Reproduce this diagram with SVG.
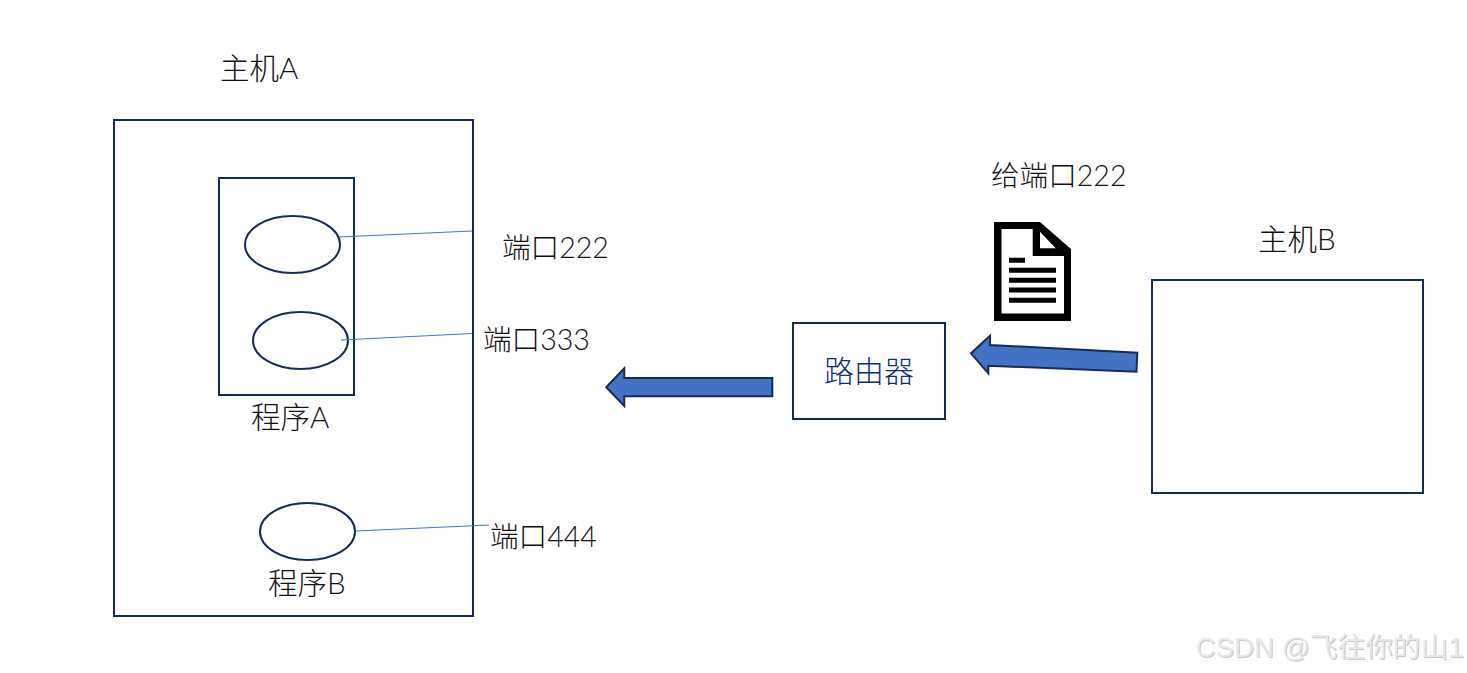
<svg xmlns="http://www.w3.org/2000/svg" width="1467" height="673" viewBox="0 0 1467 673">
<defs><filter id="emboss" x="-5%" y="-20%" width="110%" height="140%"><feDropShadow dx="1" dy="1" stdDeviation="0.5" flood-color="#c8c8c8"/></filter></defs>
<style>
text{font-family:Lato,"Noto Sans CJK SC",sans-serif;font-size:28.6px;fill:#111;font-weight:300}
.label{font-size:29.5px}
.box{fill:#fff;stroke:#172c51;stroke-width:2}
.port{fill:#fff;stroke:#172c51;stroke-width:2}
.link{stroke:#4472c4;stroke-width:1;fill:none}
.arrow{fill:#4472c4;stroke:#172c51;stroke-width:2}
</style>
<rect width="1467" height="673" fill="#fff"/>
<g id="hostA"><rect class="box" x="114" y="120" width="359" height="496"/><text class="label" x="220" y="79">主机A</text></g>
<g id="programA"><rect class="box" x="219" y="178" width="135" height="217"/><text class="label" x="251" y="428">程序A</text></g>
<g id="port222"><ellipse class="port" cx="292.500" cy="244.500" rx="47.500" ry="28.500"/><text x="502" y="258">端口222</text></g>
<g id="port333"><ellipse class="port" cx="300.500" cy="340.500" rx="47.500" ry="28.500"/><text x="483" y="350">端口333</text></g>
<g id="programB"><ellipse class="port" cx="307.500" cy="531.500" rx="47.500" ry="28.500"/><text class="label" x="268" y="594">程序B</text></g>
<g id="port444"><text x="490" y="547">端口444</text></g>
<g id="router"><rect class="box" x="793" y="323" width="152" height="96"/><text x="869" y="382" text-anchor="middle" style="font-size:30px;fill:#0f2f6f">路由器</text></g>
<g id="hostB"><rect class="box" x="1152" y="280" width="271" height="213"/><text class="label" x="1258" y="250">主机B</text></g>
<g id="packet"><text x="991" y="186">给端口222</text>
<path fill="#000" d="M994 222H1040L1071 249V321H994Z"/>
<path fill="#fff" d="M1001.500 229H1032.700V256H1064V313.500H1001.500Z"/>
<path fill="#fff" d="M1040 231.700L1055.700 248.300H1040Z"/>
<path fill="#000" d="M1009 257.700H1025V262.700H1009ZM1009 267.700H1056V272.700H1009ZM1009 277.700H1056V282.700H1009ZM1009 287.500H1056V292.500H1009ZM1009 297.700H1056V302.700H1009Z"/>
</g>
<g id="connectors">
<path class="link" d="M339 237L472 231"/>
<path class="link" d="M341 340L472 333.500"/>
<path class="link" d="M356 531L489 525"/>
<path class="arrow" d="M606.200 387.300L624.300 368.300V378H772.300V396.300H624.300V406Z"/>
<path class="arrow" d="M971 353.300L990 335.700V345L1137.300 352.700L1136.500 371.700L988.300 365.700V373.300Z"/>
</g>
<text id="watermark" x="1195.500" y="656.500" filter="url(#emboss)" style="font-family:'Liberation Sans','Noto Sans CJK SC',sans-serif;font-size:27.7px;fill:#e8e8e8;font-weight:400">CSDN @飞往你的山1</text>
</svg>
